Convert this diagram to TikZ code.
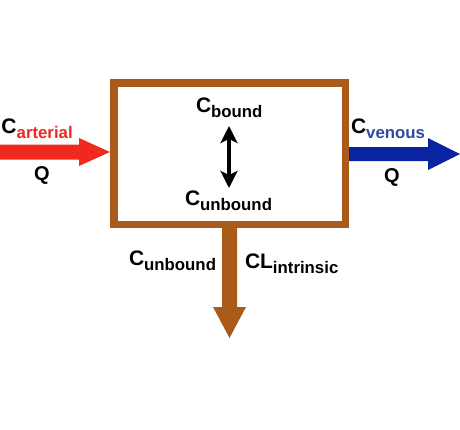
\documentclass[tikz,border=0pt]{standalone}
\usepackage{fontspec}
\setmainfont{Liberation Sans}
\usetikzlibrary{arrows.meta}
\definecolor{organ}{RGB}{170,90,25}
\definecolor{artred}{RGB}{240,40,30}
\definecolor{venblue}{RGB}{10,35,160}
\definecolor{ventext}{RGB}{45,75,160}
\newcommand\bigC[3][black]{{\fontsize{21}{24}\selectfont\bfseries #2\fontsize{16.8}{18}\selectfont\raisebox{-5.5pt}{\color{#1}#3}}}
\tikzset{
  lbl/.style={anchor=base west, inner sep=0pt, outer sep=0pt},
  qlbl/.style={inner sep=0pt, font=\fontsize{20}{24}\selectfont\bfseries},
  dbl/.style={line width=4pt, {Stealth[length=17pt,width=17pt,inset=4pt]}-{Stealth[length=17pt,width=17pt,inset=4pt]}},
}
\begin{document}
\begin{tikzpicture}[x=1pt,y=-1pt]
\useasboundingbox (0,0) rectangle (460,429);
% red inflow arrow
\fill[artred] (0,144.5) -- (79,144.5) -- (79,138) -- (110,152) -- (79,166) -- (79,159.5) -- (0,159.5) -- cycle;
% blue outflow arrow
\fill[venblue] (349,147) -- (428,147) -- (428,138) -- (460,154) -- (428,170) -- (428,161) -- (349,161) -- cycle;
% brown downward arrow
\fill[organ] (222,224) -- (237,224) -- (237,307) -- (246,307) -- (229.5,338) -- (213,307) -- (222,307) -- cycle;
% organ box
\node[draw=organ, line width=7.5pt, fill=white, minimum width=231.5pt, minimum height=141.5pt, inner sep=0pt, outer sep=0pt, anchor=north west] (box) at (114,83) {};
% labels
\node[lbl] (cart) at (1.5,133) {\bigC[artred]{C}{arterial}};
\node[qlbl] (qin) at (42,175) {Q};
\node[lbl] (cven) at (351,133) {\bigC[ventext]{C}{venous}};
\node[qlbl] (qout) at (392,177) {Q};
\node[lbl] (cb) at (196,112) {\bigC{C}{bound}};
\node[lbl] (cu) at (185,205) {\bigC{C}{unbound}};
\node[lbl] (cu2) at (129,265) {\bigC{C}{unbound}};
\node[lbl] (cl) at (245,268) {\bigC{CL}{intrinsic}};
\coordinate (bt) at (229,126);
\coordinate (bb) at (229,188);
\draw[dbl] (bt) -- (bb);
\end{tikzpicture}
\end{document}
